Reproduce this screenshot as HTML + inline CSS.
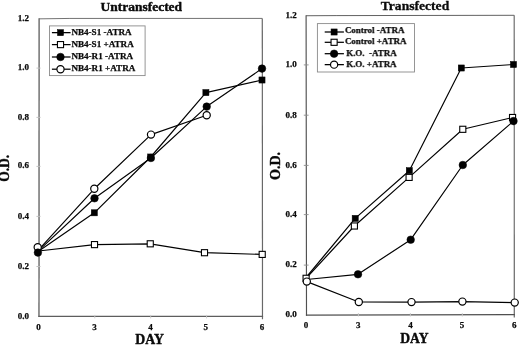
<!DOCTYPE html>
<html><head><meta charset="utf-8"><title>Untransfected / Transfected O.D. vs DAY</title>
<style>html,body{margin:0;padding:0;background:#fff}svg{display:block;filter:grayscale(1)}</style>
</head><body>
<svg width="520" height="345" viewBox="0 0 520 345">
<style>
text{font-family:"Liberation Serif",serif;font-weight:bold;fill:#0a0a0a;stroke:#0a0a0a;stroke-width:0.25px;stroke-linejoin:round}
.tt{stroke-width:0.4px}
.tk{font-size:9px}
.lg{font-size:9.1px}
.lg2{font-size:8.95px}
.tt{font-size:13.5px}
</style>
<rect width="520" height="345" fill="#fff"/>
<g opacity="0.999">
<!-- left panel -->
<line x1="39.1" y1="18.85" x2="39.0" y2="316.45" stroke="#5e5e5e" stroke-width="1.3" stroke-linecap="square"/>
<polyline points="39.1,18.85 69.1,18.45 262.3,18.42" fill="none" stroke="#6c6c6c" stroke-width="0.95"/>
<line x1="262.3" y1="18.42" x2="262.5" y2="319.15000000000003" stroke="#686868" stroke-width="1.2" stroke-linecap="butt"/>
<line x1="39.0" y1="316.45" x2="262.5" y2="316.35" stroke="#5e5e5e" stroke-width="1.2" stroke-linecap="square"/>
<line x1="36.449999999999996" y1="68.10" x2="40.55" y2="68.10" stroke="#bdbdbd" stroke-width="0.9"/>
<line x1="36.449999999999996" y1="117.40" x2="40.55" y2="117.40" stroke="#bdbdbd" stroke-width="0.9"/>
<line x1="36.449999999999996" y1="166.40" x2="40.55" y2="166.40" stroke="#bdbdbd" stroke-width="0.9"/>
<line x1="36.449999999999996" y1="216.40" x2="40.55" y2="216.40" stroke="#bdbdbd" stroke-width="0.9"/>
<line x1="36.449999999999996" y1="266.50" x2="40.55" y2="266.50" stroke="#bdbdbd" stroke-width="0.9"/>
<line x1="94.8" y1="314.9" x2="94.8" y2="318.4" stroke="#c8c8c8" stroke-width="0.9"/>
<line x1="150.7" y1="314.9" x2="150.7" y2="318.4" stroke="#c8c8c8" stroke-width="0.9"/>
<line x1="206.6" y1="314.9" x2="206.6" y2="318.4" stroke="#c8c8c8" stroke-width="0.9"/>
<text x="28.9" y="20.70" text-anchor="end" class="tk">1.2</text>
<text x="28.9" y="70.25" text-anchor="end" class="tk">1.0</text>
<text x="28.9" y="119.55" text-anchor="end" class="tk">0.8</text>
<text x="28.9" y="168.40" text-anchor="end" class="tk">0.6</text>
<text x="28.9" y="218.85" text-anchor="end" class="tk">0.4</text>
<text x="28.9" y="268.65" text-anchor="end" class="tk">0.2</text>
<text x="28.9" y="318.55" text-anchor="end" class="tk">0.0</text>
<text x="38.5" y="329.5" text-anchor="middle" class="tk">0</text>
<text x="94.5" y="329.5" text-anchor="middle" class="tk">3</text>
<text x="150.6" y="329.5" text-anchor="middle" class="tk">4</text>
<text x="205.8" y="329.5" text-anchor="middle" class="tk">5</text>
<text x="262.0" y="329.5" text-anchor="middle" class="tk">6</text>
<text x="141.3" y="10.6" text-anchor="middle" class="tt" textLength="81.6" lengthAdjust="spacingAndGlyphs">Untransfected</text>
<text x="149.6" y="344.1" text-anchor="middle" class="tt" style="font-size:14px" textLength="28.6" lengthAdjust="spacingAndGlyphs">DAY</text>
<text transform="translate(8.9,168.3) rotate(-90) scale(1,1.05)" text-anchor="middle" class="tt">O.D.</text>
<polyline points="38.50,251.30 94.30,212.80 150.70,157.00 205.90,92.60 262.00,80.00" fill="none" stroke="#000" stroke-width="1.18" stroke-linejoin="round"/>
<polyline points="38.50,251.00 94.50,244.60 150.25,243.80 204.50,252.70 262.20,254.40" fill="none" stroke="#000" stroke-width="1.18" stroke-linejoin="round"/>
<polyline points="38.30,250.90 94.50,198.30 150.90,158.00 206.70,106.60 262.00,68.60" fill="none" stroke="#000" stroke-width="1.18" stroke-linejoin="round"/>
<polyline points="38.30,250.20 94.30,188.80 151.00,134.60 206.70,115.20" fill="none" stroke="#000" stroke-width="1.18" stroke-linejoin="round"/>
<rect x="91.45" y="241.55" width="6.1" height="6.1" fill="#fff" stroke="#000" stroke-width="1.1"/>
<rect x="147.20" y="240.75" width="6.1" height="6.1" fill="#fff" stroke="#000" stroke-width="1.1"/>
<rect x="201.45" y="249.65" width="6.1" height="6.1" fill="#fff" stroke="#000" stroke-width="1.1"/>
<rect x="259.15" y="251.35" width="6.1" height="6.1" fill="#fff" stroke="#000" stroke-width="1.1"/>
<rect x="91.25" y="209.75" width="6.1" height="6.1" fill="#000" stroke="#000" stroke-width="0.5"/>
<rect x="147.65" y="153.95" width="6.1" height="6.1" fill="#000" stroke="#000" stroke-width="0.5"/>
<rect x="202.85" y="89.55" width="6.1" height="6.1" fill="#000" stroke="#000" stroke-width="0.5"/>
<rect x="258.95" y="76.95" width="6.1" height="6.1" fill="#000" stroke="#000" stroke-width="0.5"/>
<circle cx="37.70" cy="247.20" r="3.6" fill="#fff" stroke="#000" stroke-width="1.2"/>
<circle cx="94.30" cy="188.80" r="3.6" fill="#fff" stroke="#000" stroke-width="1.2"/>
<circle cx="151.00" cy="134.60" r="3.6" fill="#fff" stroke="#000" stroke-width="1.2"/>
<circle cx="206.70" cy="115.20" r="3.6" fill="#fff" stroke="#000" stroke-width="1.2"/>
<circle cx="37.90" cy="252.60" r="3.8" fill="#000" stroke="#000" stroke-width="0.5"/>
<circle cx="94.50" cy="198.30" r="3.8" fill="#000" stroke="#000" stroke-width="0.5"/>
<circle cx="150.90" cy="158.00" r="3.8" fill="#000" stroke="#000" stroke-width="0.5"/>
<circle cx="206.70" cy="106.60" r="3.8" fill="#000" stroke="#000" stroke-width="0.5"/>
<circle cx="262.00" cy="68.60" r="3.8" fill="#000" stroke="#000" stroke-width="0.5"/>
<rect x="49.5" y="25.9" width="95.6" height="49.7" fill="#fff" stroke="#8a8a8a" stroke-width="0.9"/>
<line x1="51.9" y1="32.65" x2="70.6" y2="32.65" stroke="#000" stroke-width="1.25"/>
<rect x="57.45" y="29.60" width="6.1" height="6.1" fill="#000" stroke="#000" stroke-width="0.5"/>
<text x="71.4" y="35.00" class="lg">NB4-S1 -ATRA</text>
<line x1="51.9" y1="44.6" x2="70.6" y2="44.6" stroke="#000" stroke-width="1.25"/>
<rect x="57.45" y="41.55" width="6.1" height="6.1" fill="#fff" stroke="#000" stroke-width="1.1"/>
<text x="71.4" y="47.10" class="lg">NB4-S1 +ATRA</text>
<line x1="51.9" y1="57.0" x2="70.6" y2="57.0" stroke="#000" stroke-width="1.25"/>
<circle cx="60.50" cy="57.00" r="3.8" fill="#000" stroke="#000" stroke-width="0.5"/>
<text x="71.4" y="59.20" class="lg">NB4-R1 -ATRA</text>
<line x1="51.9" y1="69.2" x2="70.6" y2="69.2" stroke="#000" stroke-width="1.25"/>
<circle cx="60.50" cy="69.20" r="3.6" fill="#fff" stroke="#000" stroke-width="1.2"/>
<text x="71.4" y="71.15" class="lg">NB4-R1 +ATRA</text>
<!-- right panel -->
<line x1="306.1" y1="15.74" x2="306.5" y2="315.1" stroke="#505050" stroke-width="1.15" stroke-linecap="square"/>
<polyline points="306.1,15.74 336.1,15.6 514.2,15.3" fill="none" stroke="#585858" stroke-width="0.95"/>
<line x1="514.2" y1="15.3" x2="514.3" y2="317.40000000000003" stroke="#666666" stroke-width="1.15" stroke-linecap="butt"/>
<line x1="306.5" y1="315.1" x2="514.3" y2="314.6" stroke="#505050" stroke-width="1.15" stroke-linecap="square"/>
<line x1="303.79999999999995" y1="64.90" x2="308.59999999999997" y2="64.90" stroke="#8c8c8c" stroke-width="0.9"/>
<line x1="303.79999999999995" y1="115.20" x2="308.59999999999997" y2="115.20" stroke="#8c8c8c" stroke-width="0.9"/>
<line x1="303.79999999999995" y1="165.40" x2="308.59999999999997" y2="165.40" stroke="#8c8c8c" stroke-width="0.9"/>
<line x1="303.79999999999995" y1="214.60" x2="308.59999999999997" y2="214.60" stroke="#8c8c8c" stroke-width="0.9"/>
<line x1="303.79999999999995" y1="265.10" x2="308.59999999999997" y2="265.10" stroke="#8c8c8c" stroke-width="0.9"/>
<line x1="358.4" y1="313.0" x2="358.4" y2="316.5" stroke="#c8c8c8" stroke-width="0.9"/>
<line x1="410.4" y1="313.0" x2="410.4" y2="316.5" stroke="#c8c8c8" stroke-width="0.9"/>
<line x1="462.3" y1="313.0" x2="462.3" y2="316.5" stroke="#c8c8c8" stroke-width="0.9"/>
<text x="296.7" y="18.05" text-anchor="end" class="tk">1.2</text>
<text x="296.7" y="67.30" text-anchor="end" class="tk">1.0</text>
<text x="296.7" y="117.55" text-anchor="end" class="tk">0.8</text>
<text x="296.7" y="167.75" text-anchor="end" class="tk">0.6</text>
<text x="296.7" y="217.00" text-anchor="end" class="tk">0.4</text>
<text x="296.7" y="267.45" text-anchor="end" class="tk">0.2</text>
<text x="296.7" y="317.35" text-anchor="end" class="tk">0.0</text>
<text x="306.1" y="328.4" text-anchor="middle" class="tk">0</text>
<text x="358.3" y="328.4" text-anchor="middle" class="tk">3</text>
<text x="410.6" y="328.4" text-anchor="middle" class="tk">4</text>
<text x="462.0" y="328.4" text-anchor="middle" class="tk">5</text>
<text x="514.3" y="328.4" text-anchor="middle" class="tk">6</text>
<text x="415.0" y="9.75" text-anchor="middle" class="tt" textLength="68.4" lengthAdjust="spacingAndGlyphs" style="font-size:13.2px;stroke-width:0.3px">Transfected</text>
<text x="414.4" y="343.4" text-anchor="middle" class="tt" style="font-size:14px" textLength="28.2" lengthAdjust="spacingAndGlyphs">DAY</text>
<text transform="translate(280.2,166) rotate(-90) scale(1.035,1.12)" text-anchor="middle" class="tt">O.D.</text>
<polyline points="306.50,277.00 355.20,218.40 409.30,170.70 461.30,68.00 513.50,64.50" fill="none" stroke="#000" stroke-width="1.18" stroke-linejoin="round"/>
<polyline points="306.10,278.30 354.40,226.00 409.10,177.40 462.80,129.30 512.55,117.50" fill="none" stroke="#000" stroke-width="1.18" stroke-linejoin="round"/>
<polyline points="306.50,279.50 358.00,274.30 410.70,239.70 462.80,165.00 513.50,121.10" fill="none" stroke="#000" stroke-width="1.18" stroke-linejoin="round"/>
<polyline points="306.80,281.60 358.80,302.00 411.50,302.10 462.40,301.60 514.70,302.60" fill="none" stroke="#000" stroke-width="1.18" stroke-linejoin="round"/>
<rect x="352.15" y="215.35" width="6.1" height="6.1" fill="#000" stroke="#000" stroke-width="0.5"/>
<rect x="406.25" y="167.65" width="6.1" height="6.1" fill="#000" stroke="#000" stroke-width="0.5"/>
<rect x="458.25" y="64.95" width="6.1" height="6.1" fill="#000" stroke="#000" stroke-width="0.5"/>
<rect x="510.45" y="61.45" width="6.1" height="6.1" fill="#000" stroke="#000" stroke-width="0.5"/>
<rect x="303.05" y="275.25" width="6.1" height="6.1" fill="#fff" stroke="#000" stroke-width="1.1"/>
<rect x="351.35" y="222.95" width="6.1" height="6.1" fill="#fff" stroke="#000" stroke-width="1.1"/>
<rect x="406.05" y="174.35" width="6.1" height="6.1" fill="#fff" stroke="#000" stroke-width="1.1"/>
<rect x="459.75" y="126.25" width="6.1" height="6.1" fill="#fff" stroke="#000" stroke-width="1.1"/>
<rect x="509.50" y="114.45" width="6.1" height="6.1" fill="#fff" stroke="#000" stroke-width="1.1"/>
<circle cx="358.00" cy="274.30" r="3.8" fill="#000" stroke="#000" stroke-width="0.5"/>
<circle cx="410.70" cy="239.70" r="3.8" fill="#000" stroke="#000" stroke-width="0.5"/>
<circle cx="462.80" cy="165.00" r="3.8" fill="#000" stroke="#000" stroke-width="0.5"/>
<circle cx="513.50" cy="121.10" r="3.8" fill="#000" stroke="#000" stroke-width="0.5"/>
<circle cx="306.80" cy="281.60" r="3.6" fill="#fff" stroke="#000" stroke-width="1.2"/>
<circle cx="358.80" cy="302.00" r="3.6" fill="#fff" stroke="#000" stroke-width="1.2"/>
<circle cx="411.50" cy="302.10" r="3.6" fill="#fff" stroke="#000" stroke-width="1.2"/>
<circle cx="462.40" cy="301.60" r="3.6" fill="#fff" stroke="#000" stroke-width="1.2"/>
<circle cx="514.70" cy="302.60" r="3.6" fill="#fff" stroke="#000" stroke-width="1.2"/>
<rect x="317.4" y="23.6" width="97.1" height="48.4" fill="#fff" stroke="#8a8a8a" stroke-width="0.9"/>
<line x1="324.7" y1="32.0" x2="343.9" y2="32.0" stroke="#000" stroke-width="1.25"/>
<rect x="331.05" y="28.95" width="6.1" height="6.1" fill="#000" stroke="#000" stroke-width="0.5"/>
<text x="344.9" y="33.00" class="lg2">Control -ATRA</text>
<line x1="324.7" y1="42.3" x2="343.9" y2="42.3" stroke="#000" stroke-width="1.25"/>
<rect x="331.05" y="39.25" width="6.1" height="6.1" fill="#fff" stroke="#000" stroke-width="1.1"/>
<text x="344.9" y="44.20" class="lg2">Control +ATRA</text>
<line x1="324.7" y1="53.7" x2="343.9" y2="53.7" stroke="#000" stroke-width="1.25"/>
<circle cx="334.10" cy="53.70" r="3.8" fill="#000" stroke="#000" stroke-width="0.5"/>
<text x="346.2" y="56.20" class="lg2">K.O.  -ATRA</text>
<line x1="324.7" y1="64.65" x2="343.9" y2="64.65" stroke="#000" stroke-width="1.25"/>
<circle cx="334.10" cy="64.65" r="3.6" fill="#fff" stroke="#000" stroke-width="1.2"/>
<text x="346.2" y="66.90" class="lg2">K.O. +ATRA</text>
</g>
</svg>
</body></html>
